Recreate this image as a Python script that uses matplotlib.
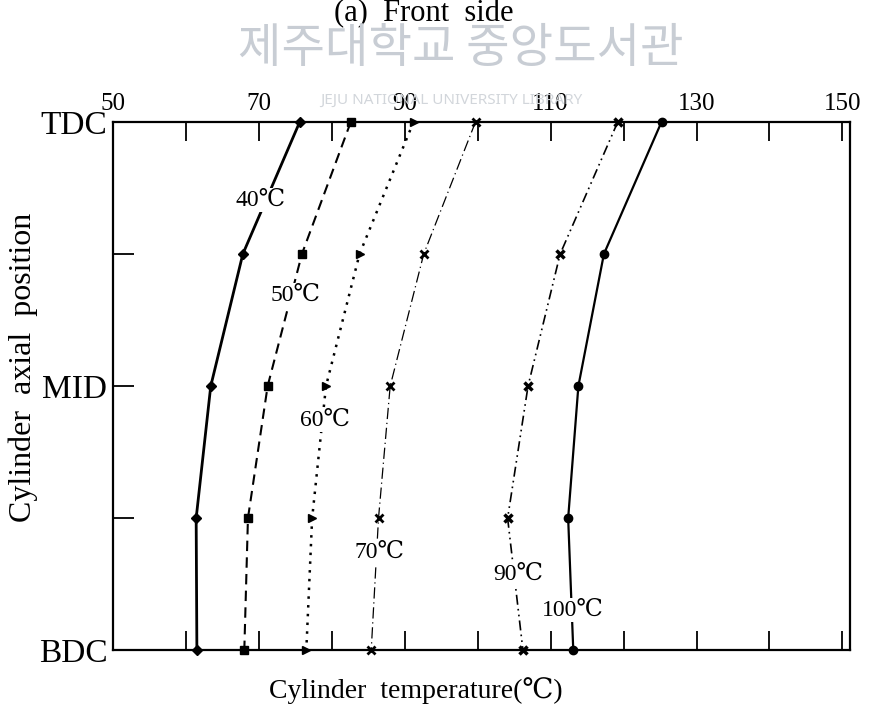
import matplotlib
matplotlib.use("Agg")
import matplotlib.pyplot as plt

plt.rcParams["font.family"] = ["Liberation Serif", "DejaVu Serif", "DejaVu Sans"]

# axial position: 0 = TDC, 0.5 = MID, 1 = BDC
position = [0.0, 0.25, 0.5, 0.75, 1.0]

t40 = [75.6, 67.8, 63.4, 61.4, 61.5]
t50 = [82.6, 75.9, 71.2, 68.5, 68.0]
t60 = [91.2, 83.8, 79.2, 77.3, 76.5]
t70 = [99.7, 92.6, 88.0, 86.4, 85.4]
t90 = [119.2, 111.3, 106.9, 104.1, 106.2]
t100 = [125.2, 117.3, 113.8, 112.4, 113.1]

labels = ["40℃", "50℃", "60℃", "70℃", "90℃", "100℃"]
pos_labels = ["TDC", "MID", "BDC"]

fig = plt.figure(figsize=(8.76, 7.13), dpi=100)
ax = fig.add_axes([0.129, 0.088, 0.841, 0.741])

k = "black"
ax.plot(t40, position, color=k, lw=2.0, marker="D", ms=5, clip_on=False)
ax.plot(t50, position, color=k, lw=1.5, ls=(0, (5, 3)), marker="s", ms=6, clip_on=False)
ax.plot(t60, position, color=k, lw=1.8, ls=(0, (1, 2.5)), marker=">", ms=6, clip_on=False)
ax.plot(t70, position, color=k, lw=0.9, ls=(0, (9, 3, 1, 3)), marker="x", ms=6, mew=2,
        clip_on=False)
ax.plot(t90, position, color=k, lw=1.2, ls=(0, (6, 2.5, 1, 2.5, 1, 2.5)), marker="x",
        ms=6, mew=2.5, clip_on=False)
ax.plot(t100, position, color=k, lw=1.6, marker="o", ms=6, clip_on=False)

# curve labels, sitting on the lines with a white patch behind
label_xy = [(70.2, 0.148), (75.0, 0.328), (79.0, 0.564), (86.5, 0.814), (105.6, 0.856), (113.1, 0.924)]
for txt, (x, y) in zip(labels, label_xy):
    ax.text(x, y, txt, fontsize=17, ha="center", va="center", zorder=5,
            bbox=dict(facecolor="white", edgecolor="none", pad=1))

ax.set_xlim(50, 151)
ax.set_ylim(1, 0)

ax.xaxis.tick_top()
ax.set_xticks(range(50, 151, 20))
ax.set_xticklabels([str(v) for v in range(50, 151, 20)], fontsize=18)
ax.set_xticks(range(60, 141, 20), minor=True)
ax.tick_params(axis="x", which="both", direction="in", length=14, width=1.3,
               top=True, bottom=True, pad=5)

ax.set_yticks([0, 0.5, 1])
ax.set_yticklabels(pos_labels, fontsize=24)
ax.set_yticks([0.25, 0.75], minor=True)
ax.tick_params(axis="y", which="both", direction="in", length=15, width=1.3,
               left=True, right=False, pad=4)

for s in ax.spines.values():
    s.set_linewidth(1.6)

fig.text(0.027, 0.485, "Cylinder  axial  position", fontsize=23, rotation=90,
         ha="center", va="center")
fig.text(0.475, 0.032, "Cylinder  temperature(℃)", fontsize=20, ha="center", va="center")
fig.text(0.484, 0.981, "(a)  Front  side", fontsize=22, ha="center", va="center")

# library watermark
fig.text(0.526, 0.931, "제주대학교 중앙도서관", fontsize=34, color="#c8cdd4",
         ha="center", va="center", family=["Noto Sans CJK KR", "DejaVu Sans"])
fig.text(0.515, 0.859, "JEJU NATIONAL UNIVERSITY LIBRARY", fontsize=11, color="#d2d6db",
         ha="center", va="center", family=["Noto Sans", "DejaVu Sans"])

fig.savefig("out.png", dpi=100, facecolor="white")
